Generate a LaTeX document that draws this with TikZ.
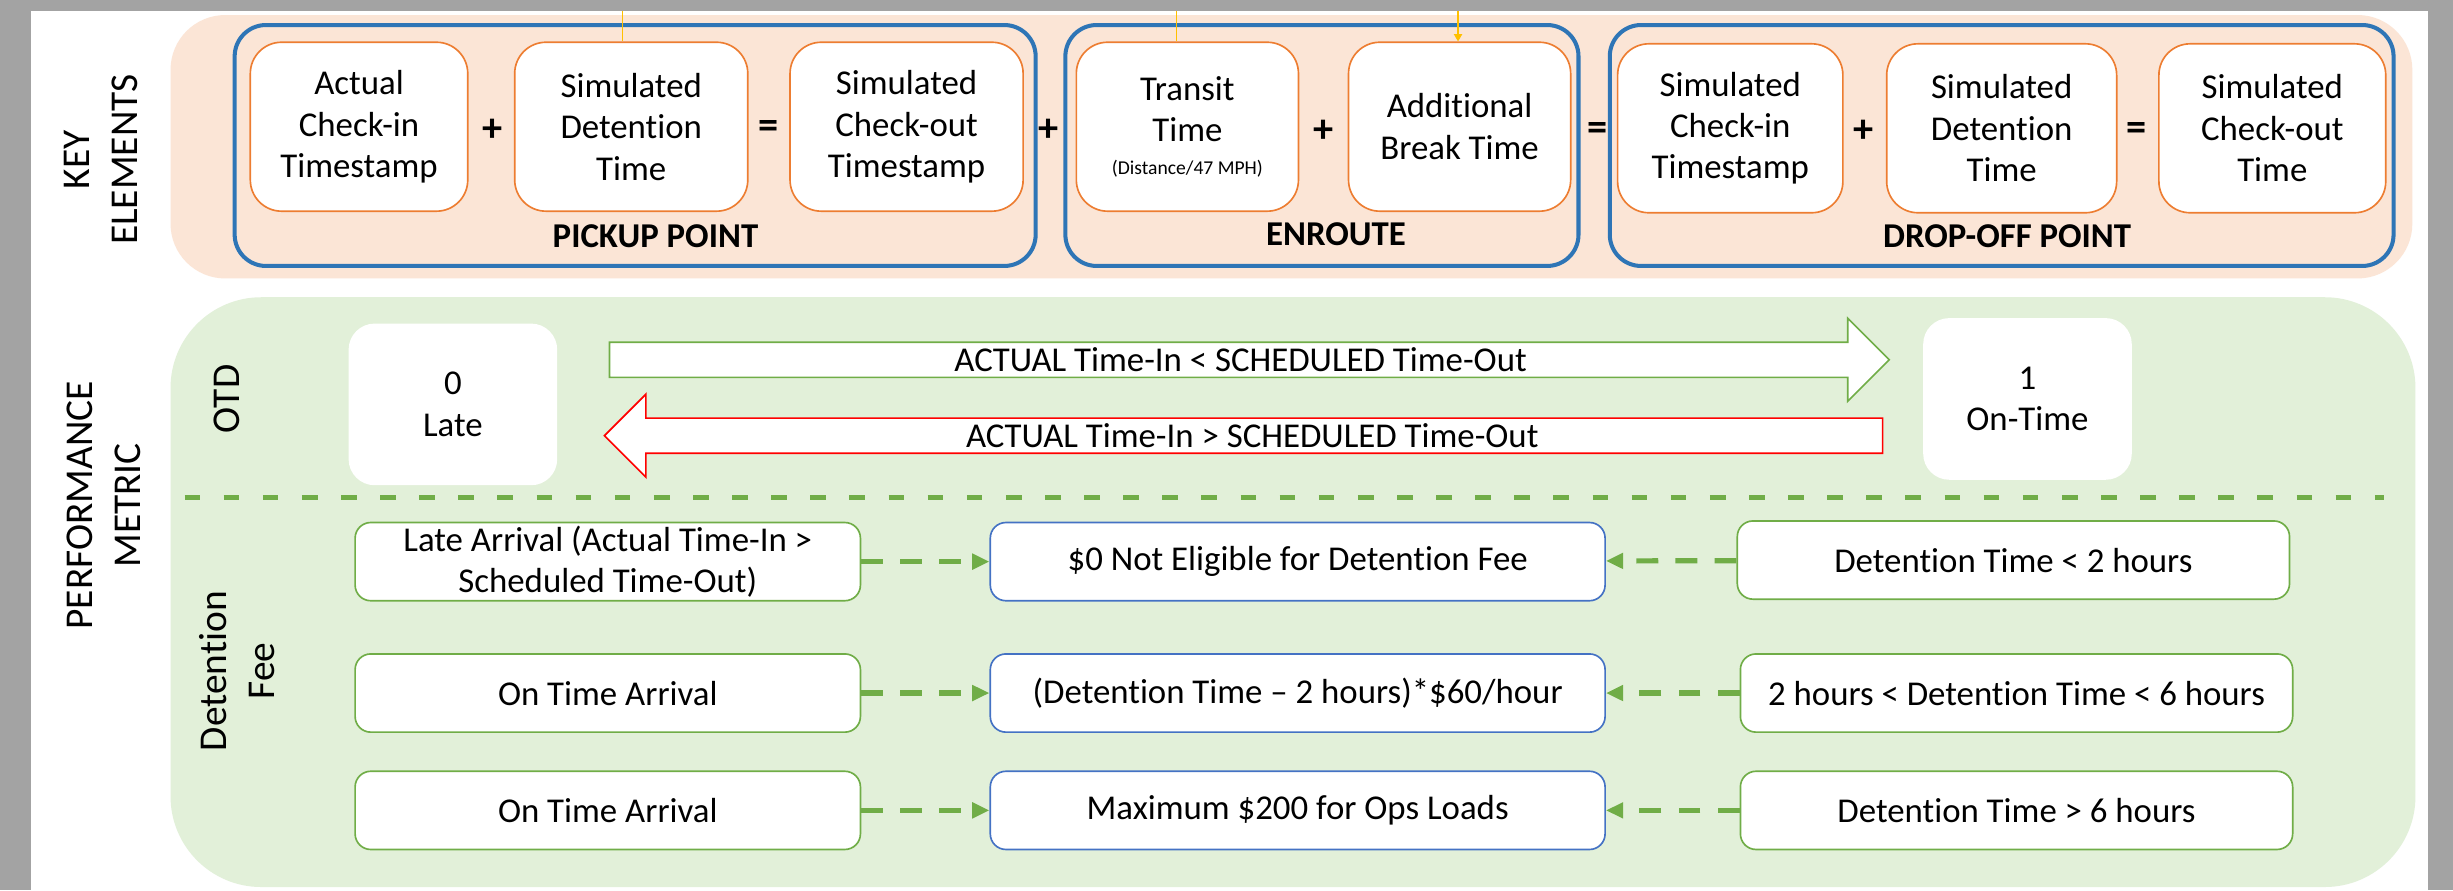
\documentclass[tikz,border=0pt]{standalone}
\usepackage{fontspec}
\setmainfont{Carlito}[Ligatures=NoCommon]
\usetikzlibrary{arrows.meta, positioning, shapes.arrows}

\definecolor{peach}{HTML}{FBE5D6}
\definecolor{mint}{HTML}{E2F0D9}
\definecolor{keyblue}{HTML}{2E75B6}
\definecolor{keyorange}{HTML}{ED7D31}
\definecolor{okgreen}{HTML}{70AD47}
\definecolor{feeblue}{HTML}{4472C4}
\definecolor{gold}{HTML}{FFC000}
\definecolor{framegray}{HTML}{A3A3A3}

\begin{document}
\begin{tikzpicture}[
  x=0.3mm, y=-0.3mm,
  font=\fontsize{19}{22.6}\selectfont,
  group/.style={draw=keyblue, line width=2.2pt, rounded corners=6mm, minimum height=46.2mm},
  elem/.style={draw=keyorange, line width=0.9pt, fill=white, rounded corners=6mm, minimum height=32.4mm, align=center, inner sep=0pt},
  op/.style={font=\fontsize{22}{22}\selectfont\bfseries},
  tag/.style={font=\fontsize{19}{22.6}\selectfont\bfseries},
  side/.style={rotate=90, align=center, font=\fontsize{21.5}{26.4}\selectfont},
  otdbox/.style={fill=white, rounded corners=5mm, minimum width=40mm, minimum height=31mm, align=center},
  cond/.style={draw=okgreen, line width=0.9pt, fill=white, rounded corners=3mm, minimum height=15mm, align=center, inner sep=0pt},
  fee/.style={draw=feeblue, line width=0.9pt, fill=white, rounded corners=3mm, minimum width=117.9mm, minimum height=15mm, align=center},
  bigarr/.style={single arrow, fill=white, line width=0.9pt, single arrow head extend=4.05mm, minimum width=15.9mm, inner ysep=0.5mm, inner xsep=0pt},
  feearr/.style={-{Triangle[length=3.3mm, width=2.9mm]}, okgreen, line width=1mm, dash pattern=on 4.2mm off 3.3mm},
  sepline/.style={okgreen, line width=0.9mm, dash pattern=on 3mm off 4.5mm},
  feed/.style={gold, line width=0.6pt}
]
\useasboundingbox (0,0) rectangle (1568,569);
\fill[white] (0,0) rectangle (1568,569);
\fill[framegray] (0,0) rectangle (20,569);
\fill[framegray] (0,0) rectangle (1568,7);
\fill[framegray] (1552,0) rectangle (1568,569);

% panels
\fill[peach, rounded corners=10.5mm] (109,9.6) rectangle (1542,178);
\fill[mint, rounded corners=17.4mm] (109,190) rectangle (1544,567);

% side labels
\node[side] (kelab) at (64.5,102) {KEY\\ELEMENTS};
\node[side] (pmlab) at (66.5,323) {PERFORMANCE\\METRIC};
\node[side] (otdlab) at (145,255) {OTD};
\node[side] (feelab) at (151.5,429) {Detention\\Fee};

% key elements
\node[group, minimum width=153.6mm] (pick) at (406,93) {};
\node[group, minimum width=98.4mm] (enr) at (845,93) {};
\node[group, minimum width=150.3mm] (drop) at (1279.5,93) {};

\node[elem, minimum width=41.7mm] (ci) at (229.5,81) {Actual\\Check-in\\Timestamp};
\node[elem, minimum width=44.7mm] (pdet) at (403.5,81) {Simulated\\Detention\\Time};
\node[elem, minimum width=44.7mm] (co) at (579.5,81) {Simulated\\Check-out\\Timestamp};
\node[elem, minimum width=42.6mm] (transit) at (759,81) {Transit\\Time\\[-5pt]{\fontsize{10.7}{13}\selectfont(Distance/47 MPH)}};
\node[elem, minimum width=42.6mm] (brk) at (933,81) {Additional\\Break Time};
\node[elem, minimum width=43.2mm] (sci) at (1106,82) {Simulated\\Check-in\\Timestamp};
\node[elem, minimum width=44.1mm] (sdet) at (1279.5,82) {Simulated\\Detention\\Time};
\node[elem, minimum width=43.5mm] (sco) at (1452.5,82) {Simulated\\Check-out\\Time};

\node[op] (op1) at (315,83) {+};
\node[op] (op2) at (491,83) {=};
\node[op] (op3) at (670,83) {+};
\node[op] (op4) at (846,84) {+};
\node[op] (op5) at (1021,84) {=};
\node[op] (op6) at (1191,84) {+};
\node[op] (op7) at (1366,84) {=};

\node[tag] (picktag) at (419,151) {PICKUP POINT};
\node[tag] (enrtag) at (854,150) {ENROUTE};
\node[tag] (droptag) at (1283,151) {DROP-OFF POINT};

\coordinate (f1) at (398,7);
\coordinate (f2) at (752,7);
\coordinate (f3) at (932,7);
\draw[feed] (f1) -- (f1 |- pdet.north);
\draw[feed] (f2) -- (f2 |- transit.north);
\draw[feed, -{Triangle[length=1.4mm, width=1.6mm]}] (f3) -- (f3 |- brk.north);

% OTD
\node[otdbox] (late) at (289.5,258.5) {0\\Late};
\node[otdbox] (ontime) at (1296,255) {1\\On-Time};
\node[bigarr, draw=okgreen, minimum height=245.4mm] (okarr) at (793,230) {ACTUAL Time-In < SCHEDULED Time-Out};
\node[bigarr, draw=red, shape border rotate=180, minimum height=245.1mm] (badarr) at (800.5,278.5) {ACTUAL Time-In > SCHEDULED Time-Out};

\coordinate (sepl) at (118,318);
\coordinate (sepr) at (1524,318);
\draw[sepline] (sepl) -- (sepr);

% detention fee
\node[cond, minimum width=96.9mm] (arr1) at (388.5,359) {Late Arrival (Actual Time-In >\\Scheduled Time-Out)};
\node[cond, minimum width=96.9mm] (arr2) at (388.5,443) {On Time Arrival};
\node[cond, minimum width=96.9mm] (arr3) at (388.5,518) {On Time Arrival};
\node[fee] (fee1) at (829.5,359) {\$0 Not Eligible for Detention Fee};
\node[fee] (fee2) at (829.5,443) {(Detention Time – 2 hours)*\$60/hour};
\node[fee] (fee3) at (829.5,518) {Maximum \$200 for Ops Loads};
\node[cond, minimum width=105.9mm] (dt1) at (1287,358) {Detention Time < 2 hours};
\node[cond, minimum width=105.9mm] (dt2) at (1289,443) {2 hours < Detention Time < 6 hours};
\node[cond, minimum width=105.9mm] (dt3) at (1289,518) {Detention Time > 6 hours};

\draw[feearr] (arr1) -- (fee1);
\draw[feearr] (arr2) -- (fee2);
\draw[feearr] (arr3) -- (fee3);
\draw[feearr] (dt1) -- (fee1);
\draw[feearr] (dt2) -- (fee2);
\draw[feearr] (dt3) -- (fee3);
\end{tikzpicture}
\end{document}
